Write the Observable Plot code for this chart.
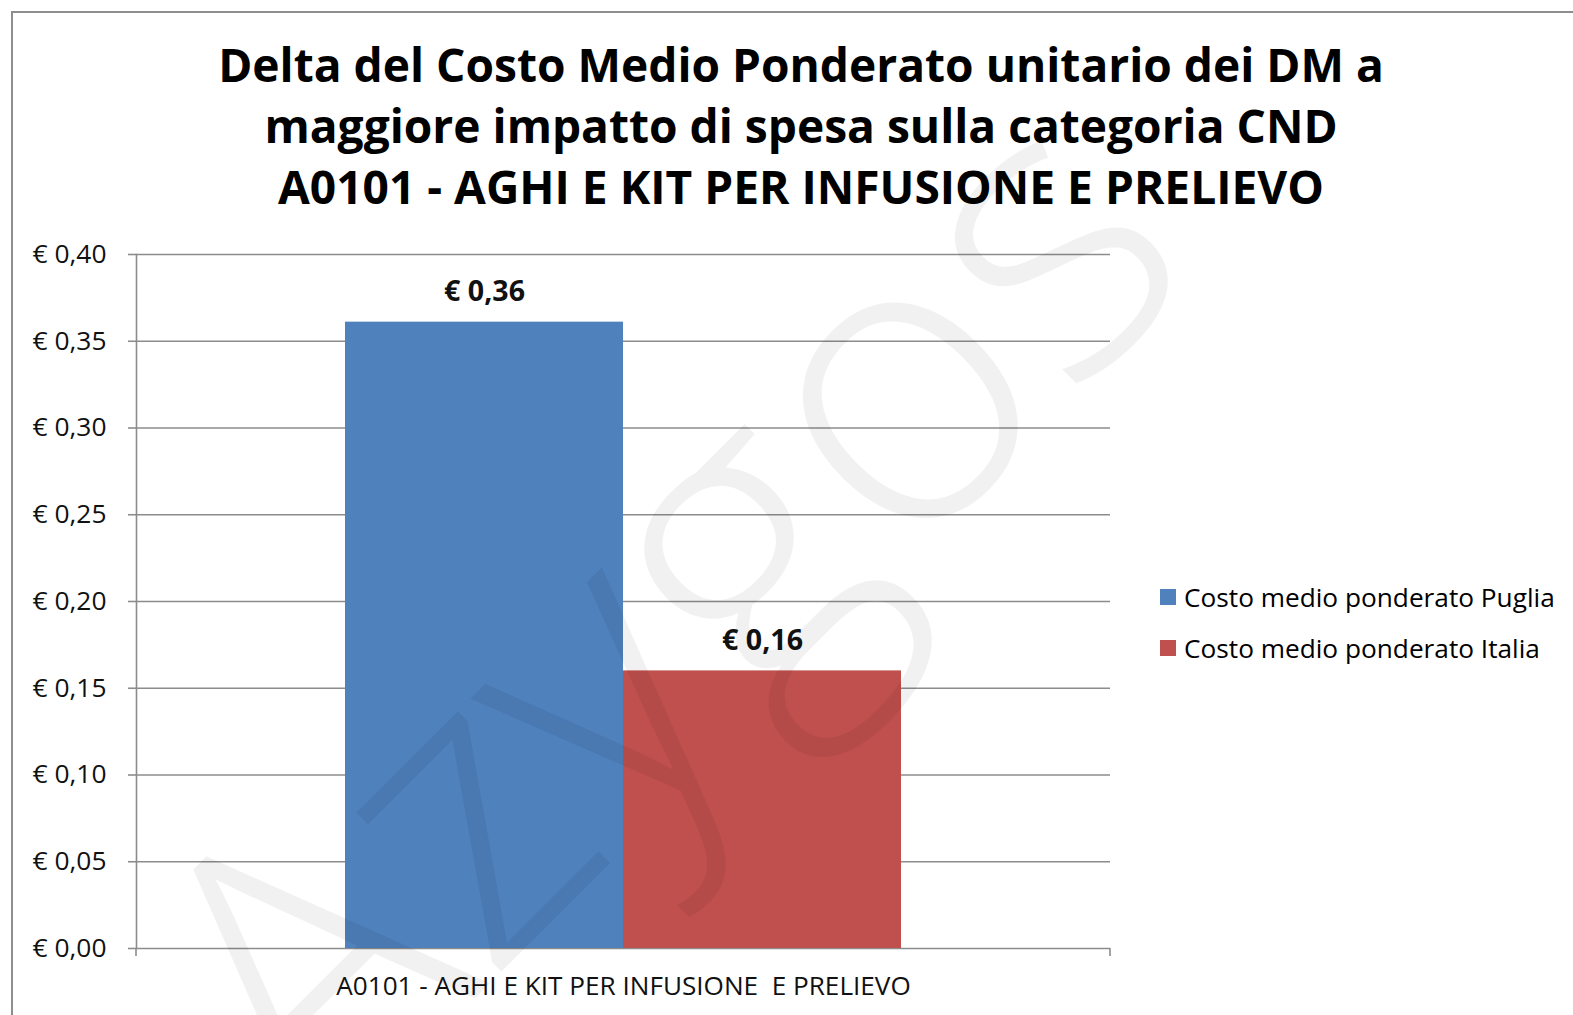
<!DOCTYPE html>
<html>
<head>
<meta charset="utf-8">
<script src="https://cdn.jsdelivr.net/npm/d3@7"></script>
<script src="https://cdn.jsdelivr.net/npm/@observablehq/plot@0.6"></script>
<style>
  html, body { margin: 0; padding: 0; background: #fff; }
  #page { position: relative; width: 1573px; height: 1015px; overflow: hidden; font-family: "Open Sans", sans-serif; }
  #frame { position: absolute; left: 11px; top: 11px; width: 1700px; height: 1200px; border-top: 2px solid #8e8e8e; border-left: 2px solid #8e8e8e; }
  #title { position: absolute; left: 0; width: 1602px; text-align: center; font-weight: 700; color: #000; line-height: 61px; white-space: nowrap; }
  #chart { position: absolute; left: 0; top: 230px; }
  #chart svg text { white-space: pre; }
  #legend { position: absolute; left: 1160px; top: 0; }
  .item { position: absolute; left: 0; height: 30px; line-height: 30px; white-space: nowrap; color: #000; }
  .sw { position: absolute; left: 0; top: 7px; width: 16px; height: 16px; }
  .lt { position: absolute; left: 24px; top: 0; }
  #wm { position: absolute; left: 0; top: 0; pointer-events: none; }
</style>
</head>
<body>
<div id="page">
  <div id="frame"></div>
  <div id="title"></div>
  <div id="chart"></div>
  <div id="legend"></div>
  <svg id="wm" width="1573" height="1015"></svg>
</div>
<script>
// ---- data ----
const titleLines = [
  "Delta del Costo Medio Ponderato unitario dei DM a",
  "maggiore impatto di spesa sulla categoria CND",
  "A0101 - AGHI E KIT PER INFUSIONE E PRELIEVO"
];
const category = "A0101 - AGHI E KIT PER INFUSIONE  E PRELIEVO";
const series = ["Costo medio ponderato Puglia", "Costo medio ponderato Italia"];
const values = [0.361, 0.16];
const colors = ["#4F81BD", "#C0504D"];
const yTicks = [0, 0.05, 0.10, 0.15, 0.20, 0.25, 0.30, 0.35, 0.40];
const watermark = "Azygos";

const fmt = v => "€ " + v.toFixed(2).replace(".", ",");
const data = series.map((s, i) => ({category, series: s, value: values[i]}));

// ---- title ----
const titleEl = document.getElementById("title");
titleLines.forEach(t => {
  const d = document.createElement("div");
  const s = document.createElement("span");
  s.textContent = t;
  d.appendChild(s);
  titleEl.appendChild(d);
});
titleEl.style.fontSize = "40px";
{
  const w = titleEl.querySelector("span").getBoundingClientRect().width;
  const f = 40 * 1166 / w;
  titleEl.style.fontSize = f + "px";
  titleEl.style.top = (82 - ((61 - 1.362 * f) / 2 + 1.069 * f)) + "px";
}

// ---- chart ----
const grid = "#8c8c8c";
const plot = Plot.plot({
  width: 1140,
  height: 785,
  marginLeft: 136,
  marginRight: 30,
  marginTop: 24,
  marginBottom: 67,
  style: {fontFamily: '"Open Sans", sans-serif', fontSize: "20px", color: "#000", background: "transparent", overflow: "visible"},
  fx: {domain: [category], padding: 0, label: null},
  x: {domain: series, paddingInner: 0, paddingOuter: 0.75, axis: null},
  y: {domain: [0, 0.4], label: null},
  color: {domain: series, range: colors},
  marks: [
    Plot.ruleY(yTicks, {stroke: grid, strokeWidth: 1.6}),
    Plot.frame({anchor: "left", stroke: grid, strokeWidth: 1.6}),
    Plot.axisY(yTicks, {tickFormat: fmt, tickSize: 8, tickPadding: 22, stroke: grid, strokeWidth: 1.6, fill: "#111", label: null}),
    Plot.axisFx({anchor: "bottom", tickSize: 0, tickPadding: 28, label: null, fill: "#111"}),
    Plot.barY(data, {fx: "category", x: "series", y: "value", fill: "series"}),
    Plot.text(data, {fx: "category", x: "series", y: "value", text: d => fmt(d.value), dy: -30, fontWeight: "bold", fontSize: 22, fill: "#111"})
  ]
});
document.getElementById("chart").appendChild(plot);

// fit text sizes to reference widths
function fitGroup(texts, target) {
  if (!texts.length) return;
  const t0 = texts[0];
  const cur = parseFloat(getComputedStyle(t0).fontSize);
  const w = t0.getComputedTextLength();
  const f = cur * target / w;
  texts.forEach(t => t.style.fontSize = f + "px");
}
const svg = d3.select(plot);
fitGroup(svg.selectAll('g[aria-label="y-axis tick label"] text').nodes(), 74);
fitGroup(svg.selectAll('g[aria-label="fx-axis tick label"] text').nodes(), 575);
fitGroup(svg.selectAll('g[aria-label="text"] text').nodes(), 81);

// end ticks below the category axis, at the band edges
const fxRange = plot.scale("fx").range;
const y0 = plot.scale("y").apply(0);
svg.append("g").attr("aria-label", "category ticks")
  .selectAll("line").data(fxRange).join("line")
  .attr("x1", d => d).attr("x2", d => d)
  .attr("y1", y0).attr("y2", y0 + 8)
  .attr("stroke", grid).attr("stroke-width", 1.6);

// ---- legend ----
const legendEl = document.getElementById("legend");
const legendCenters = [597, 648];
series.forEach((s, i) => {
  const it = document.createElement("div");
  it.className = "item";
  it.style.top = (legendCenters[i] - 15) + "px";
  const sw = document.createElement("div");
  sw.className = "sw";
  sw.style.background = colors[i];
  const lt = document.createElement("span");
  lt.className = "lt";
  lt.textContent = s;
  it.appendChild(sw); it.appendChild(lt);
  legendEl.appendChild(it);
});
{
  const spans = legendEl.querySelectorAll(".lt");
  legendEl.style.fontSize = "24px";
  const w = spans[0].getBoundingClientRect().width;
  legendEl.style.fontSize = (24 * 371 / w) + "px";
}

// ---- watermark ----
d3.select("#wm").append("text")
  .attr("transform", "translate(318,1155) rotate(-45)")
  .attr("font-family", '"Open Sans", sans-serif')
  .attr("font-weight", 300)
  .attr("font-size", 405)
  .attr("fill", "#000")
  .attr("fill-opacity", 0.055)
  .text(watermark);
</script>
</body>
</html>
